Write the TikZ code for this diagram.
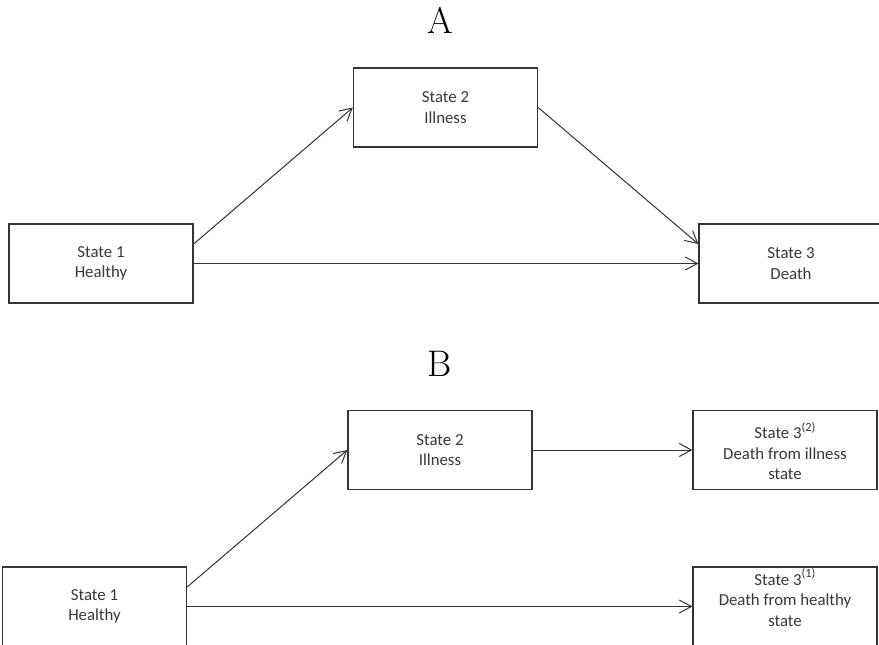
\documentclass[tikz,border=0pt]{standalone}
\usepackage{fontspec}
\newfontfamily\carl{Carlito}
\usetikzlibrary{arrows.meta}
\definecolor{boxc}{HTML}{333333}
\definecolor{txtc}{HTML}{383838}
\newcommand{\mysup}[1]{\raisebox{0.42em}{\fontsize{12.5}{12.5}\selectfont(#1)}}
\begin{document}
\begin{tikzpicture}[x=1pt,y=-1pt,
  box/.style={draw=boxc, line width=1.3pt, minimum width=184pt, minimum height=79pt, inner sep=0pt, fill=white},
  txt/.style={font=\carl\fontsize{16.8}{20.5}\selectfont, text=txtc, align=center, inner sep=0pt},
  arr/.style={draw=boxc, line width=1pt, -{Straight Barb[length=12pt,width=13pt]}},
  panel/.style={font=\fontsize{37}{40}\selectfont, inner sep=0pt, anchor=base}]
\useasboundingbox (0,0) rectangle (879,645);
% Panel A
\node[panel] (labA) at (440,34) {A};
\node[box] (s1a) at (101,263.5) {};
\node[box] (s2a) at (445.5,107.5) {};
\node[box] (s3a) at (791,263.5) {};
\node[txt] (t1a) at (s1a.center) {State 1\\Healthy};
\node[txt] (t2a) at (s2a.center) {State 2\\Illness};
\node[txt] (t3a) at (s3a.center) {State 3\\Death};
\draw[arr] ([yshift=19.5pt]s1a.east) -- (s2a.west);
\draw[arr] (s1a.east) -- (s3a.west);
\draw[arr] (s2a.east) -- ([yshift=19.5pt]s3a.west);
% Panel B
\node[panel] (labB) at (440,376) {B};
\node[box] (s2b) at (440,450) {};
\node[box] (s32) at (785,450) {};
\node[box] (s1b) at (94.5,606.5) {};
\node[box] (s31) at (785,606.5) {};
\node[txt] (t2b) at (s2b.center) {State 2\\Illness};
\node[txt] (t32) at ([yshift=-1pt]s32.center) {State 3\mysup{2}\\Death from illness\\state};
\node[txt] (t1b) at (s1b.center) {State 1\\Healthy};
\node[txt] (t31) at ([yshift=9pt]s31.center) {State 3\mysup{1}\\Death from healthy\\state};
\draw[arr] ([yshift=19.5pt]s1b.east) -- (s2b.west);
\draw[arr] (s2b.east) -- (s32.west);
\draw[arr] (s1b.east) -- (s31.west);
\end{tikzpicture}
\end{document}
